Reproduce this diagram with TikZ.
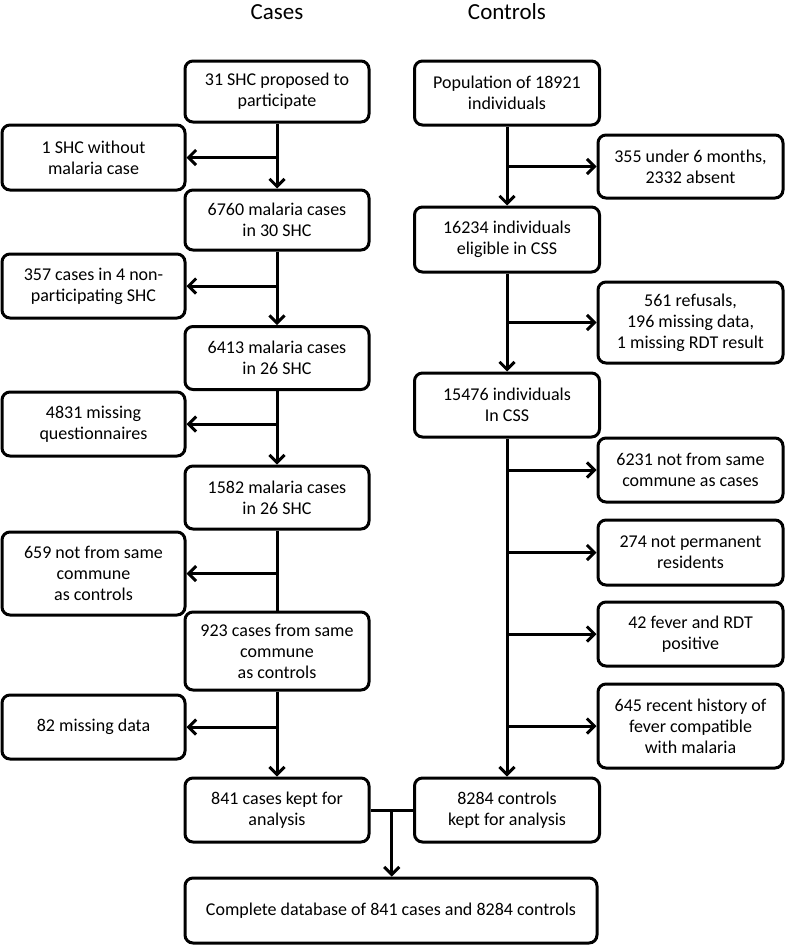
\documentclass[tikz,border=0pt]{standalone}
\usepackage{fontspec}
\setmainfont{Carlito}
\usetikzlibrary{arrows.meta,calc}
\tikzset{
  box/.style={draw, line width=3pt, rounded corners=8pt, align=center,
    minimum width=184pt, minimum height=63pt, inner sep=2pt,
    font=\fontsize{18}{21}\selectfont},
  tall/.style={minimum height=81pt},
  title/.style={font=\fontsize{23}{26}\selectfont},
  link/.style={draw, line width=3pt},
  flow/.style={link, -{Straight Barb[length=7.5pt,width=15pt,line width=3pt]}}
}
\begin{document}
\begin{tikzpicture}[x=1pt,y=-1pt]
\useasboundingbox (0,0) rectangle (785,945);
% headings
\node[title] (hc) at (277,12) {Cases};
\node[title] (hk) at (507,12) {Controls};
% cases column
\node[box, minimum height=61pt] (c1) at (277,91.5) {31 SHC proposed to\\participate};
\node[box, minimum height=60pt] (c2) at (277,220) {6760 malaria cases\\in 30 SHC};
\node[box] (c3) at (277,358) {6413 malaria cases\\in 26 SHC};
\node[box] (c4) at (277,497.5) {1582 malaria cases\\in 26 SHC};
\node[box, minimum height=78pt] (c5) at (277,651) {923 cases from same\\commune\\as controls};
\node[box, minimum height=64pt] (c6) at (277,810) {841 cases kept for\\analysis};
% cases exclusions
\node[box, minimum width=183pt, minimum height=65pt] (s1) at (93.5,157.5) {1 SHC without\\malaria case};
\node[box, minimum width=183pt, minimum height=64pt] (s2) at (93.5,286) {357 cases in 4 non-\\participating SHC};
\node[box, minimum width=183pt, minimum height=64pt] (s3) at (93.5,424) {4831 missing\\questionnaires};
\node[box, minimum width=183pt, minimum height=83pt] (s4) at (93.5,573.5) {659 not from same\\commune\\as controls};
\node[box, minimum width=183pt, minimum height=64pt] (s5) at (93.5,727) {82 missing data};
% controls column
\node[box, minimum width=185pt, minimum height=64pt] (r1) at (507,93) {Population of 18921\\individuals};
\node[box, minimum width=185pt, minimum height=65pt] (r2) at (507,239.5) {16234 individuals\\eligible in CSS};
\node[box, minimum width=185pt, minimum height=64pt] (r3) at (507,405) {15476 individuals\\In CSS};
\node[box, minimum width=185pt, minimum height=64pt] (r4) at (507,810) {8284 controls\\kept for analysis};
% controls exclusions
\node[box, minimum width=185pt, minimum height=63pt] (t1) at (690.5,166.5) {355 under 6 months,\\2332 absent};
\node[box, minimum width=185pt, tall] (t2) at (690.5,322.5) {561 refusals,\\196 missing data,\\1 missing RDT result};
\node[box, minimum width=185pt, minimum height=64pt] (t3) at (690.5,470) {6231 not from same\\commune as cases};
\node[box, minimum width=185pt, minimum height=65pt] (t4) at (690.5,552.5) {274 not permanent\\residents};
\node[box, minimum width=185pt, minimum height=64pt] (t5) at (690.5,634) {42 fever and RDT\\positive};
\node[box, minimum width=185pt, minimum height=84pt] (t6) at (690.5,726) {645 recent history of\\fever compatible\\with malaria};
% final database
\node[box, minimum width=412pt, minimum height=65pt] (db) at (391,910.5) {Complete database of 841 cases and 8284 controls};
% cases flow
\path[flow] (c1) -- (c2);
\path[flow] (c2) -- (c3);
\path[flow] (c3) -- (c4);
\path[link] (c4) -- (c5);
\path[flow] (c5) -- (c6);
\path[flow] (c1.south |- s1.east) -- (s1.east);
\path[flow] (c2.south |- s2.east) -- (s2.east);
\path[flow] (c3.south |- s3.east) -- (s3.east);
\path[flow] (c4.south |- s4.east) -- (s4.east);
\path[flow] (c5.south |- s5.east) -- (s5.east);
% controls flow
\path[flow] (r1) -- (r2);
\path[flow] (r2) -- (r3);
\path[flow] (r3) -- (r4);
\path[flow] (r1.south |- t1.west) -- (t1.west);
\path[flow] (r2.south |- t2.west) -- (t2.west);
\path[flow] (r3.south |- t3.west) -- (t3.west);
\path[flow] (r3.south |- t4.west) -- (t4.west);
\path[flow] (r3.south |- t5.west) -- (t5.west);
\path[flow] (r3.south |- t6.west) -- (t6.west);
% merge
\coordinate (m) at ($(c6.east)!.5!(r4.west)$);
\path[link] (c6.east) -- (r4.west);
\path[flow] (m) -- (m |- db.north);
\end{tikzpicture}
\end{document}
